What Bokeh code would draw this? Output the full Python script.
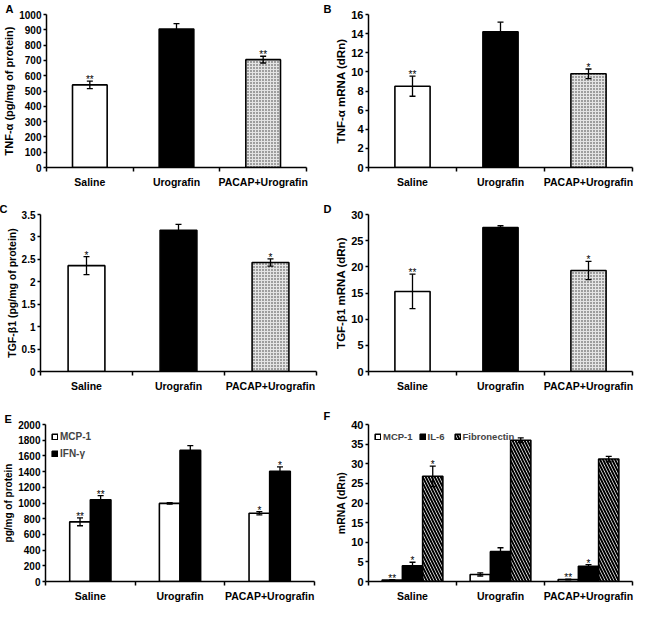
from bokeh.plotting import figure
from bokeh.layouts import column, row
from bokeh.models import (Range1d, FixedTicker, SingleIntervalTicker, Whisker, TeeHead,
                          ColumnDataSource, NumeralTickFormatter, Legend, LegendItem)
from bokeh.embed import file_html
from bokeh.resources import INLINE
from bokeh.core.properties import value

# ---------------- data ----------------
groups = ["Saline", "Urografin", "PACAP+Urografin"]

tnf_protein = [540, 905, 705]
tnf_protein_err = [25, 35, 22]
tnf_protein_sig = ["**", "", "**"]

tnf_mrna = [8.5, 14.2, 9.8]
tnf_mrna_err = [1.05, 1.0, 0.5]
tnf_mrna_sig = ["**", "", "*"]

tgf_protein = [2.36, 3.15, 2.43]
tgf_protein_err = [0.2, 0.13, 0.08]
tgf_protein_sig = ["*", "", "*"]

tgf_mrna = [15.3, 27.5, 19.3]
tgf_mrna_err = [3.3, 0.35, 1.75]
tgf_mrna_sig = ["**", "", "*"]

mcp1_protein = [760, 995, 870]
mcp1_protein_err = [50, 10, 20]
mcp1_protein_sig = ["**", "", "*"]
ifng_protein = [1040, 1670, 1405]
ifng_protein_err = [55, 60, 55]
ifng_protein_sig = ["**", "", "*"]

mcp1_mrna = [0.4, 1.8, 0.5]
mcp1_mrna_err = [0.1, 0.4, 0.1]
mcp1_mrna_sig = ["**", "", "**"]
il6_mrna = [4.0, 7.6, 3.9]
il6_mrna_err = [0.9, 1.0, 0.4]
il6_mrna_sig = ["*", "", "*"]
fibronectin_mrna = [26.8, 36.0, 31.2]
fibronectin_mrna_err = [2.6, 0.6, 0.7]
fibronectin_mrna_sig = ["*", "", ""]

# ---------------- styles ----------------
FONT = "Liberation Sans"
group_fill = ["white", "black", "#e4e4e4"]
group_hatch = [" ", " ", "."]
xpos = [i + 1 for i in range(len(groups))]


def base_fig(width, height, ymax, interval, ylabel, bl, br, bt, bb, letter, letter_x,
             fmt="0", letter_standoff=0, tick_fs="10px", label_fs="11px"):
    p = figure(width=width, height=height, x_range=Range1d(0.5, len(groups) + 0.5),
               y_range=Range1d(0, ymax), output_backend="svg", toolbar_location=None,
               min_border_left=bl, min_border_right=br, min_border_top=bt,
               min_border_bottom=bb)
    p.outline_line_color = None
    p.xgrid.visible = False
    p.ygrid.visible = False
    # panel letter as the figure title
    p.title.text = letter
    p.title.align = "left"
    p.title.offset = letter_x
    p.title.text_font = FONT
    p.title.text_font_style = "bold"
    p.title.text_font_size = "11px"
    p.title.text_color = "black"
    p.title.standoff = letter_standoff
    xa = p.xaxis[0]
    xa.ticker = FixedTicker(ticks=xpos,
                            minor_ticks=[x - 0.5 for x in xpos] + [xpos[-1] + 0.5])
    xa.major_label_overrides = {x: g for x, g in zip(xpos, groups)}
    xa.major_tick_out = 0
    xa.major_tick_in = 0
    xa.minor_tick_out = 4
    xa.minor_tick_in = 0
    xa.minor_tick_line_width = 1.5
    xa.minor_tick_line_color = "black"
    xa.axis_line_width = 1.5
    xa.axis_line_color = "black"
    xa.major_label_text_font = FONT
    xa.major_label_text_font_style = "bold"
    xa.major_label_text_font_size = "10.5px"
    xa.major_label_text_color = "black"
    xa.major_label_standoff = 4
    ya = p.yaxis[0]
    ya.ticker = SingleIntervalTicker(interval=interval, num_minor_ticks=0)
    ya.formatter = NumeralTickFormatter(format=fmt)
    ya.major_tick_out = 3
    ya.major_tick_in = 0
    ya.minor_tick_out = 0
    ya.minor_tick_in = 0
    ya.major_tick_line_width = 1.5
    ya.major_tick_line_color = "black"
    ya.axis_line_width = 1.5
    ya.axis_line_color = "black"
    ya.major_label_text_font = FONT
    ya.major_label_text_font_style = "bold"
    ya.major_label_text_font_size = tick_fs
    ya.major_label_text_color = "black"
    ya.major_label_standoff = 2
    ya.axis_label = ylabel
    ya.axis_label_text_font = FONT
    ya.axis_label_text_font_style = "bold"
    ya.axis_label_text_font_size = label_fs
    ya.axis_label_text_color = "black"
    ya.axis_label_standoff = 1
    return p


def add_series(p, xs, vals, errs, sigs, width, fills, hatches, hatch_scale=3.0,
               hatch_weight=1.0, hatch_color="#333333"):
    src = ColumnDataSource(dict(x=xs, top=vals,
                                upper=[v + e for v, e in zip(vals, errs)],
                                lower=[v - e for v, e in zip(vals, errs)],
                                sig=sigs, fill=fills, hatch=hatches))
    r = p.vbar(x="x", top="top", bottom=0, width=width, source=src,
               fill_color="fill", line_color="black", line_width=1.6,
               hatch_pattern="hatch", hatch_color=hatch_color,
               hatch_scale=hatch_scale, hatch_weight=hatch_weight)
    w = Whisker(source=src, base="x", upper="upper", lower="lower",
                line_color="black", line_width=1.3, level="overlay",
                upper_head=TeeHead(size=6, line_color="black", line_width=1.3),
                lower_head=TeeHead(size=6, line_color="black", line_width=1.3))
    p.add_layout(w)
    p.text(x="x", y="upper", text="sig", source=src, text_align="center",
           text_baseline="bottom", y_offset=4, text_font=value(FONT),
           text_font_size="10px", text_color="black")
    return r


LW, RW = 322, 312
LBL, LBR_A = 40, 16
RBL, RBR = 46, 2
LX, RX = -41, -45

# Row 1
pa = base_fig(LW, 190, 1000, 100, "TNF-α (pg/mg of protein)", LBL, LBR_A, 9, 22, "A",
              LX)
add_series(pa, xpos, tnf_protein, tnf_protein_err, tnf_protein_sig, 0.4,
           group_fill, group_hatch)
pb = base_fig(RW, 190, 16, 2, "TNF-α mRNA (dRn)", RBL, RBR, 9, 22, "B", RX,
              tick_fs="11px", label_fs="11.5px")
add_series(pb, xpos, tnf_mrna, tnf_mrna_err, tnf_mrna_sig, 0.4,
           group_fill, group_hatch)

# Row 2
pc = base_fig(LW, 204, 3.5, 0.5, "TGF-β1 (pg/mg of protein)", LBL, 6, 24, 22, "C", LX,
              fmt="0.[0]", label_fs="10.5px")
add_series(pc, xpos, tgf_protein, tgf_protein_err, tgf_protein_sig, 0.4,
           group_fill, group_hatch)
pd_ = base_fig(RW, 204, 30, 5, "TGF-β1 mRNA (dRn)", RBL, RBR, 24, 22, "D", RX,
               tick_fs="11px", label_fs="11.5px")
add_series(pd_, xpos, tgf_mrna, tgf_mrna_err, tgf_mrna_sig, 0.4,
           group_fill, group_hatch)

# Row 3
pe = base_fig(LW, 210, 2000, 200, "pg/mg of protein", LBL, 8, 30, 21, "E", LX,
              label_fs="10px")
bw_e = 0.23
r1 = add_series(pe, [x - bw_e / 2 for x in xpos], mcp1_protein, mcp1_protein_err,
                mcp1_protein_sig, bw_e, ["white"] * 3, [" "] * 3)
r2 = add_series(pe, [x + bw_e / 2 for x in xpos], ifng_protein, ifng_protein_err,
                ifng_protein_sig, bw_e, ["black"] * 3, [" "] * 3)
leg_e = Legend(items=[LegendItem(label="MCP-1", renderers=[r1]),
                      LegendItem(label="IFN-γ", renderers=[r2])],
               location="top_left", orientation="vertical", margin=6, padding=4,
               spacing=5, glyph_width=7, glyph_height=7, label_standoff=2,
               label_text_font=FONT, label_text_font_style="bold",
               label_text_font_size="10px", border_line_color=None,
               background_fill_alpha=0, label_height=12)
pe.add_layout(leg_e)

pf = base_fig(RW, 210, 40, 5, "mRNA (dRn)", RBL, RBR, 30, 21, "F", RX, letter_standoff=6,
              tick_fs="11px", label_fs="10.5px")
bw_f = 0.23
q1 = add_series(pf, [x - bw_f for x in xpos], mcp1_mrna, mcp1_mrna_err,
                mcp1_mrna_sig, bw_f, ["white"] * 3, [" "] * 3)
q2 = add_series(pf, xpos, il6_mrna, il6_mrna_err, il6_mrna_sig, bw_f,
                ["black"] * 3, [" "] * 3)
q3 = add_series(pf, [x + bw_f for x in xpos], fibronectin_mrna, fibronectin_mrna_err,
                fibronectin_mrna_sig, bw_f, ["white"] * 3, ["\\"] * 3,
                hatch_scale=6.0, hatch_weight=2.0, hatch_color="black")
leg_f = Legend(items=[LegendItem(label="MCP-1", renderers=[q1]),
                      LegendItem(label="IL-6", renderers=[q2]),
                      LegendItem(label="Fibronectin", renderers=[q3])],
               location="top_left", orientation="horizontal", margin=6, padding=2,
               spacing=6, glyph_width=7, glyph_height=7, label_standoff=2,
               label_text_font=FONT, label_text_font_style="bold",
               label_text_font_size="9.5px", border_line_color=None,
               background_fill_alpha=0, label_height=12)
pf.add_layout(leg_f)

layout = column(row(pa, pb), row(pc, pd_), row(pe, pf))

open("out.html", "w").write(file_html(layout, INLINE))
